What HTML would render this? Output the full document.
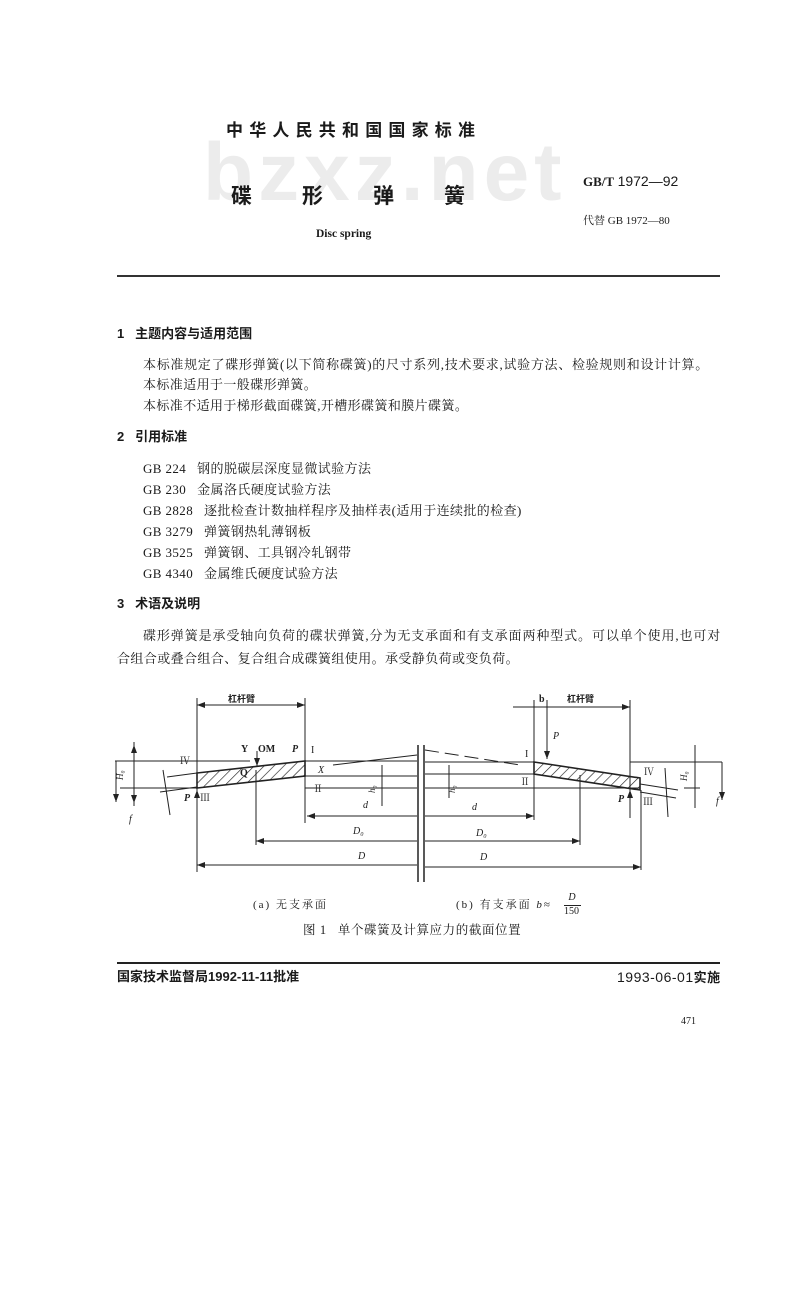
<!DOCTYPE html>
<html><head><meta charset="utf-8">
<style>
body{margin:0;background:#fff;}
#p{position:relative;width:800px;height:1296px;overflow:hidden;background:#fff;color:#1a1a1a;font-family:"Liberation Serif","Noto Serif CJK SC",serif;}
.t{position:absolute;white-space:nowrap;line-height:1;}
.s{font-family:"Liberation Sans","Noto Sans CJK SC",sans-serif;}
.b{font-weight:bold;}
.body{font-size:13px;letter-spacing:0.4px;}
</style></head><body><div id="p">
<div class="t s b" style="left:203px;top:132px;font-size:82px;color:#ececec;letter-spacing:5px;">bzxz.net</div>
<div class="t s b" style="left:226px;top:122px;font-size:17px;letter-spacing:6.2px;">中华人民共和国国家标准</div>
<div class="t s b" style="left:231px;top:186px;font-size:21px;letter-spacing:50px;">碟形弹簧</div>
<div class="t b" style="left:316px;top:229px;font-size:11.5px;">Disc spring</div>
<div class="t" style="left:583px;top:174px;font-size:14px;"><b style="font-size:13px">GB/T</b> <span class="s">1972—92</span></div>
<div class="t" style="left:583px;top:216px;font-size:11px;">代替 GB 1972—80</div>
<div style="position:absolute;left:117px;top:275px;width:603px;height:1.5px;background:#333;"></div>

<div class="t s b" style="left:117px;top:327px;font-size:13px;">1&nbsp;&nbsp; 主题内容与适用范围</div>
<div class="t body" style="left:143px;top:358px;letter-spacing:0.7px;">本标准规定了碟形弹簧(以下简称碟簧)的尺寸系列,技术要求,试验方法、检验规则和设计计算。</div>
<div class="t body" style="left:143px;top:378px;">本标准适用于一般碟形弹簧。</div>
<div class="t body" style="left:143px;top:399px;">本标准不适用于梯形截面碟簧,开槽形碟簧和膜片碟簧。</div>
<div class="t s b" style="left:117px;top:430px;font-size:13px;">2&nbsp;&nbsp; 引用标准</div>
<div class="t body" style="left:143px;top:462px;">GB 224&nbsp;&nbsp; 钢的脱碳层深度显微试验方法</div>
<div class="t body" style="left:143px;top:483px;">GB 230&nbsp;&nbsp; 金属洛氏硬度试验方法</div>
<div class="t body" style="left:143px;top:504px;">GB 2828&nbsp;&nbsp; 逐批检查计数抽样程序及抽样表(适用于连续批的检查)</div>
<div class="t body" style="left:143px;top:525px;">GB 3279&nbsp;&nbsp; 弹簧钢热轧薄钢板</div>
<div class="t body" style="left:143px;top:546px;">GB 3525&nbsp;&nbsp; 弹簧钢、工具钢冷轧钢带</div>
<div class="t body" style="left:143px;top:567px;">GB 4340&nbsp;&nbsp; 金属维氏硬度试验方法</div>
<div class="t s b" style="left:117px;top:597px;font-size:13px;">3&nbsp;&nbsp; 术语及说明</div>
<div class="t body" style="left:143px;top:629px;letter-spacing:0.9px;">碟形弹簧是承受轴向负荷的碟状弹簧,分为无支承面和有支承面两种型式。可以单个使用,也可对</div>
<div class="t body" style="left:117px;top:652px;">合组合或叠合组合、复合组合成碟簧组使用。承受静负荷或变负荷。</div>

<svg style="position:absolute;left:0;top:0" width="800" height="1296" viewBox="0 0 800 1296">
<defs>
<pattern id="h" width="7" height="7" patternUnits="userSpaceOnUse" patternTransform="rotate(45)"><line x1="0" y1="0" x2="0" y2="7" stroke="#222" stroke-width="1.3"/></pattern>
<marker id="a" markerWidth="8" markerHeight="6" refX="8" refY="3" orient="auto-start-reverse"><path d="M0,0 L8,3 L0,6z" fill="#222"/></marker>
</defs>
<g stroke="#222" stroke-width="1" fill="none">
<line x1="197" y1="705" x2="305" y2="705" marker-start="url(#a)" marker-end="url(#a)"/>
<line x1="197" y1="698" x2="197" y2="872"/>
<line x1="305" y1="698" x2="305" y2="823"/>
<line x1="115" y1="761" x2="250" y2="761"/>
<line x1="305" y1="761" x2="417" y2="761"/>
<line x1="305" y1="776" x2="417" y2="776"/>
<line x1="120" y1="788" x2="197" y2="788"/>
<line x1="305" y1="788" x2="417" y2="788"/>
<line x1="333" y1="765" x2="417" y2="755"/>
<line x1="167" y1="777" x2="197" y2="773"/>
<line x1="160" y1="792" x2="197" y2="787"/>
<polygon points="197,773 305,761 305,776 197,788" fill="url(#h)" stroke-width="1.6"/>
<line x1="134" y1="742" x2="134" y2="806"/>
<line x1="134" y1="761" x2="134" y2="745" marker-end="url(#a)"/>
<line x1="134" y1="788" x2="134" y2="803" marker-end="url(#a)"/>
<line x1="116" y1="761" x2="116" y2="802" marker-end="url(#a)"/>
<line x1="163" y1="770" x2="170" y2="815"/>
<line x1="382" y1="765" x2="382" y2="806"/>
<line x1="256" y1="770" x2="256" y2="845"/>
<line x1="307" y1="816" x2="417" y2="816" marker-start="url(#a)"/>
<line x1="256" y1="841" x2="417" y2="841" marker-start="url(#a)"/>
<line x1="197" y1="865" x2="417" y2="865" marker-start="url(#a)"/>
<line x1="257" y1="751" x2="257" y2="766" marker-end="url(#a)"/>
<line x1="197" y1="790" x2="197" y2="803" marker-start="url(#a)"/>
<line x1="418" y1="745" x2="418" y2="882" stroke-width="1.5"/>
<line x1="424" y1="745" x2="424" y2="882" stroke-width="1.5"/>
<line x1="513" y1="707" x2="630" y2="707" marker-end="url(#a)"/>
<line x1="534" y1="700" x2="534" y2="820"/>
<line x1="547" y1="700" x2="547" y2="759" marker-end="url(#a)"/>
<line x1="630" y1="700" x2="630" y2="818"/>
<line x1="425" y1="762" x2="534" y2="762"/>
<line x1="630" y1="762" x2="722" y2="762"/>
<line x1="425" y1="774" x2="534" y2="774"/>
<line x1="425" y1="788" x2="640" y2="788"/>
<line x1="425" y1="750" x2="520" y2="765" stroke-dasharray="14,6"/>
<polygon points="534,762 640,778 640,790 534,774" fill="url(#h)" stroke-width="1.6"/>
<line x1="640" y1="784" x2="678" y2="790"/>
<line x1="640" y1="792" x2="676" y2="798"/>
<line x1="665" y1="768" x2="668" y2="817"/>
<line x1="695" y1="745" x2="695" y2="808"/>
<line x1="684" y1="788" x2="700" y2="788"/>
<line x1="722" y1="762" x2="722" y2="800" marker-end="url(#a)"/>
<line x1="449" y1="765" x2="449" y2="798"/>
<line x1="580" y1="775" x2="580" y2="845"/>
<line x1="641" y1="790" x2="641" y2="870"/>
<line x1="630" y1="800" x2="630" y2="790" marker-end="url(#a)"/>
<line x1="425" y1="816" x2="534" y2="816" marker-end="url(#a)"/>
<line x1="425" y1="841" x2="580" y2="841" marker-end="url(#a)"/>
<line x1="425" y1="867" x2="641" y2="867" marker-end="url(#a)"/>
</g>
<g fill="#222" font-family="Liberation Serif, Noto Serif CJK SC, serif" font-size="10">
<text x="228" y="702" font-size="9" font-weight="bold" font-family="Noto Sans CJK SC, sans-serif">杠杆臂</text>
<text x="241" y="752" font-weight="bold">Y</text><text x="258" y="752" font-weight="bold">OM</text>
<text x="292" y="752" font-weight="bold" font-style="italic">P</text><text x="311" y="753">I</text>
<text x="180" y="764">Ⅳ</text>
<text x="240" y="776" font-weight="bold">Q</text>
<text x="318" y="773" font-style="italic">X</text>
<text x="313" y="792">Ⅱ</text>
<text x="184" y="801" font-style="italic" font-weight="bold">P</text><text x="200" y="801">Ⅲ</text>
<text x="363" y="808" font-style="italic">d</text>
<text x="353" y="834" font-style="italic">D₀</text>
<text x="358" y="859" font-style="italic">D</text>
<text x="129" y="822" font-style="italic">f</text>
<text x="123" y="780" font-size="9" font-style="italic" transform="rotate(-90 123 780)">H₀</text>
<text x="375" y="793" font-size="9" font-style="italic" transform="rotate(-90 375 793)">h₀</text>
<text x="455" y="793" font-size="9" font-style="italic" transform="rotate(-90 455 793)">h₀</text>
<text x="687" y="781" font-size="9" font-style="italic" transform="rotate(-90 687 781)">H₀</text>
<text x="539" y="702" font-weight="bold">b</text>
<text x="567" y="702" font-size="9" font-weight="bold" font-family="Noto Sans CJK SC, sans-serif">杠杆臂</text>
<text x="553" y="739" font-style="italic">P</text>
<text x="525" y="757">I</text>
<text x="520" y="785">Ⅱ</text>
<text x="644" y="775">Ⅳ</text>
<text x="618" y="802" font-style="italic" font-weight="bold">P</text>
<text x="643" y="805">Ⅲ</text>
<text x="472" y="810" font-style="italic">d</text>
<text x="476" y="836" font-style="italic">D₀</text>
<text x="480" y="860" font-style="italic">D</text>
<text x="716" y="804" font-style="italic">f</text>
</g>
</svg>
<div class="t" style="left:253px;top:900px;font-size:11px;letter-spacing:2px;">(a) 无支承面</div>
<div class="t" style="left:456px;top:900px;font-size:11px;letter-spacing:2px;">(b) 有支承面 <i>b</i>≈</div>
<div class="t" style="left:565px;top:893px;font-size:10px;text-align:center;width:14px;"><i>D</i></div>
<div style="position:absolute;left:564px;top:905px;width:17px;height:1px;background:#222"></div>
<div class="t" style="left:564px;top:907px;font-size:10px;">150</div>
<div class="t" style="left:303px;top:924px;font-size:12.5px;letter-spacing:0.6px;">图 1&nbsp;&nbsp; 单个碟簧及计算应力的截面位置</div>
<div style="position:absolute;left:117px;top:962px;width:603px;height:2px;background:#222;"></div>
<div class="t s b" style="left:117px;top:970px;font-size:13px;">国家技术监督局1992-11-11批准</div>
<div class="t s" style="left:617px;top:970px;font-size:14px;letter-spacing:0.5px;">1993-06-01<b style="font-size:13px">实施</b></div>
<div class="t" style="left:681px;top:1017px;font-size:10px;">471</div>
</div></body></html>
